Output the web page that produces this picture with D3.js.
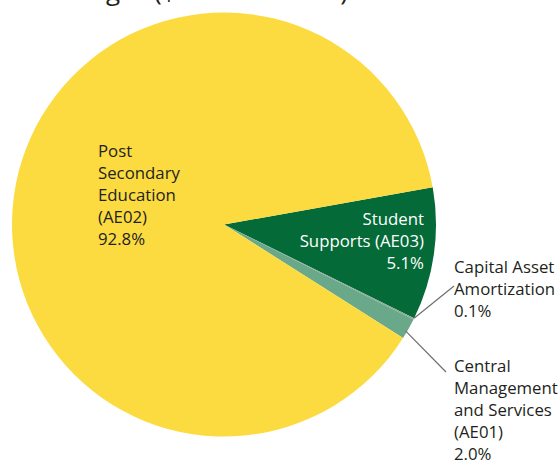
<!DOCTYPE html>
<html>
<head>
<meta charset="utf-8">
<script src="https://cdn.jsdelivr.net/npm/d3@7/dist/d3.min.js"></script>
<style>
  html, body { margin: 0; padding: 0; background: #fff; }
  svg { display: block; font-family: "Open Sans", "Noto Sans", sans-serif; }
</style>
</head>
<body>
<svg id="chart" width="560" height="461"></svg>
<script>
// ---- data ----
const categories = ["Student Supports (AE03)", "Capital Asset Amortization", "Central Management and Services (AE01)", "Post Secondary Education (AE02)"];
const labelPercents = ["5.1%", "0.1%", "2.0%", "92.8%"];
// slice shares as drawn in the reference pie (angles)
const sliceShares = [10.1, 0.1, 1.6, 88.2];
const sliceColors = ["#046a38", "#8fa89a", "#6aa88a", "#fcdb40"];
const titleText = "Expenses by Program – Colleges ($ in thousands)";

const svg = d3.select("#chart");
const cx = 224, cy = 224.5, r = 212;
const startDeg = 79.9;

const pie = d3.pie().sort(null).value(d => d)
  .startAngle(startDeg * Math.PI / 180)
  .endAngle(startDeg * Math.PI / 180 + 2 * Math.PI);
const arcs = pie(sliceShares);
const arc = d3.arc().innerRadius(0).outerRadius(r);

// title (clipped at the top like the reference)
svg.append("text").attr("x", 348).attr("y", 0).attr("text-anchor", "end")
  .attr("font-size", 26).attr("fill", "#231f20").text(titleText);

const g = svg.append("g").attr("transform", `translate(${cx},${cy})`);
g.selectAll("path").data(arcs).join("path")
  .attr("d", arc)
  .attr("fill", (d, i) => sliceColors[i]);

function edgePoint(angle) {
  return [Math.sin(angle) * r, -Math.cos(angle) * r];
}
const capP = edgePoint(arcs[1].startAngle);
g.append("line").attr("x1", capP[0]).attr("y1", capP[1])
  .attr("x2", 454 - cx).attr("y2", 286 - cy)
  .attr("stroke", "#6d6e71").attr("stroke-width", 1.2);
const cmP = edgePoint((arcs[2].startAngle + arcs[2].endAngle) / 2);
g.append("line").attr("x1", cmP[0] - 3).attr("y1", cmP[1] + 2)
  .attr("x2", 446 - cx).attr("y2", 372 - cy)
  .attr("stroke", "#6d6e71").attr("stroke-width", 1.2);

const lh = 22;
function block(lines, x, y, anchor, fill) {
  const t = svg.append("text").attr("x", x).attr("y", y)
    .attr("text-anchor", anchor).attr("font-size", 16.8).attr("fill", fill);
  lines.forEach((l, i) => {
    t.append("tspan").attr("x", x).attr("y", y + i * lh).text(l);
  });
}
block(["Post", "Secondary", "Education", "(AE02)", labelPercents[3]], 98, 157, "start", "#231f20");
block(["Student", "Supports (AE03)", labelPercents[0]], 424, 225, "end", "#ffffff");
block(["Capital Asset", "Amortization", labelPercents[1]], 454, 273, "start", "#231f20");
block(["Central", "Management", "and Services", "(AE01)", labelPercents[2]], 454, 372, "start", "#231f20");
</script>
</body>
</html>
